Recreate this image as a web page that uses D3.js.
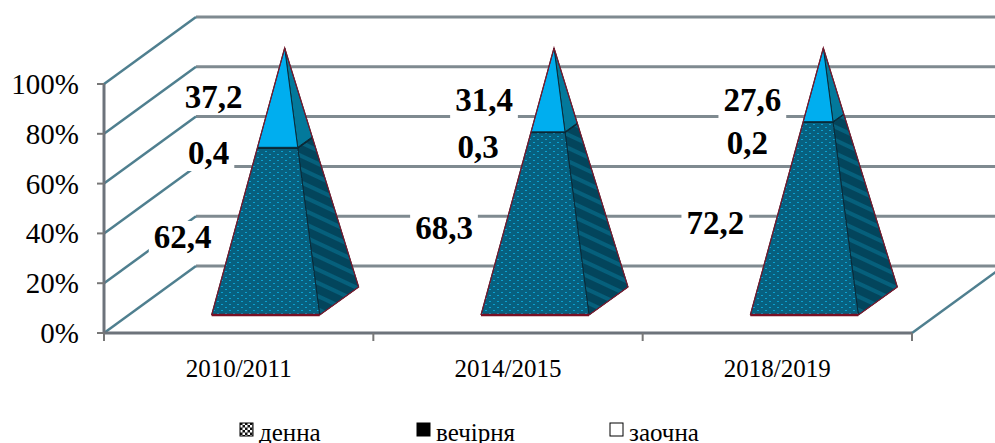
<!DOCTYPE html>
<html lang="uk">
    <head>
        <meta charset="UTF-8" />
        <title>Pyramid chart</title>
        <script src="https://d3js.org/d3.v7.min.js"></script>
        <style>
            html, body { margin: 0; padding: 0; background: #fff; overflow: hidden; }
            svg { display: block; }
            text { font-family: "Liberation Serif", serif; fill: #000; }
            .grid { stroke: #7f8a90; stroke-width: 3px; fill: none; }
            .wall { stroke: #4f7f8f; stroke-width: 2.5px; fill: none; }
            .axis { stroke: #6d737b; stroke-width: 3px; fill: none; }
            .tick { stroke: #777; stroke-width: 2px; }
        </style>
    </head>
    <body>
        <svg width="995" height="443"></svg>

        <script>
            const categories = ["2010/2011", "2014/2015", "2018/2019"];
            const denna = [62.4, 68.3, 72.2];
            const vechirnia = [0.4, 0.3, 0.2];
            const zaochna = [37.2, 31.4, 27.6];
            const labelDenna = ["62,4", "68,3", "72,2"];
            const labelVechirnia = ["0,4", "0,3", "0,2"];
            const labelZaochna = ["37,2", "31,4", "27,6"];
            const yTicks = [0, 20, 40, 60, 80, 100];
            const legendNames = ["денна", "вечірня", "заочна"];

            const svg = d3.select("svg");
            const width = 995;

            // 3D box of the chart
            const depthX = 92, depthY = -67;
            const x = d3.scaleBand().domain(categories).range([104, 912]);
            const y = d3.scaleLinear().domain([0, 100]).range([333, 84]);
            const pyramidHeight = d3.scaleLinear().domain([0, 100]).range([0, 253]);

            // patterns
            const defs = svg.append("defs");
            const front = defs.append("pattern").attr("id", "frontFill")
                .attr("width", 8).attr("height", 6).attr("patternUnits", "userSpaceOnUse");
            front.append("rect").attr("width", 8).attr("height", 6).attr("fill", "#07607f");
            front.append("rect").attr("x", 1).attr("y", 1).attr("width", 2).attr("height", 1).attr("fill", "#0aa0d0");
            front.append("rect").attr("x", 5).attr("y", 4).attr("width", 2).attr("height", 1).attr("fill", "#0aa0d0");
            const side = defs.append("pattern").attr("id", "sideFill")
                .attr("width", 12).attr("height", 12).attr("patternUnits", "userSpaceOnUse")
                .attr("patternTransform", "rotate(25)");
            side.append("rect").attr("width", 12).attr("height", 12).attr("fill", "#03455c");
            side.append("rect").attr("width", 12).attr("height", 4).attr("fill", "#06607c");
            const check = defs.append("pattern").attr("id", "legendCheck")
                .attr("width", 5).attr("height", 5).attr("patternUnits", "userSpaceOnUse");
            check.append("rect").attr("width", 5).attr("height", 5).attr("fill", "#111");
            check.append("rect").attr("width", 2.5).attr("height", 2.5).attr("fill", "#fff");
            check.append("rect").attr("x", 2.5).attr("y", 2.5).attr("width", 2.5).attr("height", 2.5).attr("fill", "#fff");

            // back wall gridlines and left wall
            svg.append("g").selectAll("line").data(yTicks).enter().append("line")
                .attr("class", "grid")
                .attr("x1", 104 + depthX).attr("x2", width)
                .attr("y1", (d) => y(d) + depthY).attr("y2", (d) => y(d) + depthY);
            svg.append("g").selectAll("line").data(yTicks).enter().append("line")
                .attr("class", "wall")
                .attr("x1", 104).attr("x2", 104 + depthX)
                .attr("y1", (d) => y(d)).attr("y2", (d) => y(d) + depthY);
            svg.append("line").attr("class", "wall")
                .attr("x1", 912).attr("y1", y(0))
                .attr("x2", 912 + depthX).attr("y2", y(0) + depthY);

            // axes
            svg.append("line").attr("class", "axis").attr("x1", 104).attr("x2", 912).attr("y1", y(0)).attr("y2", y(0));
            svg.append("line").attr("class", "axis").attr("x1", 104).attr("x2", 104).attr("y1", y(100)).attr("y2", y(0));
            svg.append("g").selectAll("line").data(yTicks).enter().append("line")
                .attr("class", "tick").attr("x1", 97).attr("x2", 104)
                .attr("y1", (d) => y(d)).attr("y2", (d) => y(d));
            const xEdges = categories.map((c) => x(c)).concat([912]);
            svg.append("g").selectAll("line").data(xEdges).enter().append("line")
                .attr("class", "tick").attr("x1", (d) => d).attr("x2", (d) => d)
                .attr("y1", y(0)).attr("y2", y(0) + 8);

            svg.append("g").selectAll("text").data(yTicks).enter().append("text")
                .attr("x", 79).attr("y", (d) => y(d) + 10)
                .attr("text-anchor", "end").attr("font-size", 29)
                .text((d) => d + "%");
            svg.append("g").selectAll("text").data(categories).enter().append("text")
                .attr("x", (d) => x(d) + x.bandwidth() / 2).attr("y", 377)
                .attr("text-anchor", "middle").attr("font-size", 25)
                .text((d) => d);

            // pyramids: base square on the floor, stacked segments toward the apex
            const halfW = 54;
            const frontLift = 18, backLift = 46;
            categories.forEach((c, i) => {
                const g = svg.append("g");
                const cx = x(c) + x.bandwidth() / 2;
                const fl = [cx + 27 - halfW, y(0) - frontLift];
                const fr = [cx + 27 + halfW, y(0) - frontLift];
                const br = [cx + 27 + halfW + 39, y(0) - backLift];
                const centre = [cx + 46, (fl[1] + br[1]) / 2];
                const apex = [centre[0], centre[1] - pyramidHeight(100)];
                const at = (p, v) => [p[0] + (apex[0] - p[0]) * v / 100, p[1] + (apex[1] - p[1]) * v / 100];
                const face = (p, q, a, b) => [at(p, a), at(q, a), at(q, b), at(p, b)];
                const line = d3.line();
                const seg = [
                    [0, denna[i], "url(#frontFill)", "url(#sideFill)"],
                    [denna[i], denna[i] + vechirnia[i], "#111", "#111"],
                    [denna[i] + vechirnia[i], 100, "#00aeef", "#03799b"],
                ];
                seg.forEach((s) => {
                    g.append("path").attr("d", line(face(fr, br, s[0], s[1])) + "Z")
                        .attr("fill", s[3]).attr("stroke", "#0a2a38").attr("stroke-width", 1);
                    g.append("path").attr("d", line(face(fl, fr, s[0], s[1])) + "Z")
                        .attr("fill", s[2]).attr("stroke", "#0a2a38").attr("stroke-width", 1);
                });
                // outer maroon edge
                g.append("path").attr("d", line([fl, apex, br, fr]))
                    .attr("fill", "none").attr("stroke", "#7a1a2e").attr("stroke-width", 1.2);
                g.append("line").attr("x1", fl[0]).attr("x2", fr[0]).attr("y1", fl[1]).attr("y2", fr[1])
                    .attr("stroke", "#7a1024").attr("stroke-width", 2.5);
            });

            // data labels, moved by hand in the original chart
            const labelRows = [
                { text: labelZaochna, dx: [-25, -24, -25], py: [97, 100, 100] },
                { text: labelVechirnia, dx: [-30, -30, -30], py: [153, 147, 143] },
                { text: labelDenna, dx: [-56, -64, -62], py: [237, 228, 223] },
            ];
            const labelG = svg.append("g");
            labelRows.forEach((row) => {
                categories.forEach((c, i) => {
                    const lx = x(c) + x.bandwidth() / 2 + row.dx[i];
                    const t = labelG.append("text")
                        .attr("x", lx).attr("y", row.py[i] + 11)
                        .attr("text-anchor", "middle")
                        .attr("font-size", 33).attr("font-weight", "bold")
                        .text(row.text[i]);
                    const b = t.node().getBBox();
                    labelG.insert("rect", "text")
                        .attr("x", b.x - 5).attr("y", b.y + 2)
                        .attr("width", b.width + 10).attr("height", b.height - 2)
                        .attr("fill", "#fff");
                });
            });

            // legend
            const legendX = [240, 417, 610];
            const legendG = svg.append("g");
            const legendFill = ["url(#legendCheck)", "#000", "#fff"];
            legendNames.forEach((n, i) => {
                legendG.append("rect")
                    .attr("x", legendX[i]).attr("y", 423).attr("width", 13).attr("height", 13)
                    .attr("fill", legendFill[i]).attr("stroke", "#000").attr("stroke-width", 1);
                legendG.append("text")
                    .attr("x", legendX[i] + 19).attr("y", 441)
                    .attr("font-size", 25)
                    .text(n);
            });
        </script>
    </body>
</html>
